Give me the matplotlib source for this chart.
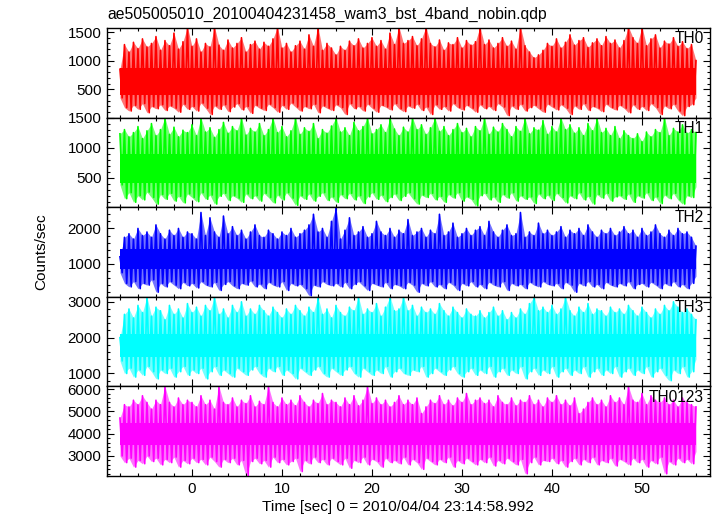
import numpy as np
import matplotlib
matplotlib.use("Agg")
import matplotlib.pyplot as plt
from matplotlib.ticker import MultipleLocator

plt.rcParams['font.family'] = ['Liberation Sans', 'DejaVu Sans']

title = "ae505005010_20100404231458_wam3_bst_4band_nobin.qdp"
xlabel = "Time [sec] 0 = 2010/04/04 23:14:58.992"
ylabel = "Counts/sec"
bands = ["TH0", "TH1", "TH2", "TH3", "TH0123"]
colors = ["#ff0000", "#00ff00", "#0000ff", "#00ffff", "#ff00ff"]

# time grid of the envelope samples (seconds, 0.5 s spacing, -8 .. 56)
t_start, t_step, n_pts = -8.0, 0.5, 129

# upper / lower extremes of the light curves (counts/sec)
th0_hi = [850, 1280, 1150, 1320, 1210, 1380, 1240, 1300, 1420, 1180, 1350, 1260, 1480, 1200, 1330, 1590,
          1250, 1380, 1150, 1300, 1240, 1590, 1270, 1180, 1360, 1220, 1300, 1400, 1150, 1280, 1340, 1200,
          1320, 1250, 1380, 1590, 1220, 1300, 1150, 1260, 1340, 1200, 1450, 1250, 1590, 1180, 1300, 1220,
          1100, 1250, 1180, 1340, 1260, 1380, 1220, 1300, 1400, 1250, 1350, 1200, 1480, 1280, 1590, 1300,
          1350, 1420, 1260, 1380, 1590, 1300, 1240, 1360, 1180, 1310, 1280, 1400, 1220, 1350, 1270, 1330,
          1590, 1280, 1360, 1220, 1300, 1400, 1250, 1340, 1200, 1590, 1260, 1150, 1050, 1100, 1180, 1300,
          1250, 1380, 1220, 1320, 1450, 1270, 1350, 1400, 1230, 1310, 1380, 1260, 1420, 1300, 1360, 1220,
          1350, 1590, 1400, 1300, 1590, 1260, 1380, 1450, 1220, 1340, 1290, 1400, 1250, 1330, 1210, 1280,
          1000]
th0_lo = [350, 180, 120, 220, 150, 250, 90, 200, 160, 230, 130, 210, 170, 100, 240, 150,
          200, 120, 260, 170, 60, 210, 150, 230, 110, 190, 250, 140, 200, 80, 220, 170,
          130, 240, 180, 100, 220, 150, 260, 190, 120, 200, 160, 240, 90, 210, 170, 130,
          230, 180, 60, 250, 160, 200, 120, 240, 170, 100, 220, 190, 140, 250, 160, 110,
          210, 170, 240, 130, 190, 60, 230, 150, 200, 120, 250, 180, 140, 220, 170, 100,
          230, 160, 200, 130, 250, 190, 40, 210, 150, 240, 120, 180, 220, 160, 100, 240,
          190, 140, 230, 170, 60, 210, 150, 250, 130, 200, 170, 110, 240, 180, 140, 220,
          170, 90, 230, 150, 200, 130, 250, 180, 60, 210, 160, 240, 120, 40, 200, 230,
          350]
th1_hi = [1230, 1300, 1180, 1250, 1350, 1150, 1280, 1400, 1200, 1300, 1500, 1220, 1340, 1180, 1290, 1250,
          1380, 1200, 1500, 1260, 1330, 1170, 1300, 1420, 1240, 1350, 1280, 1500, 1210, 1320, 1260, 1400,
          1200, 1300, 1500, 1250, 1350, 1180, 1280, 1500, 1220, 1330, 1270, 1400, 1150, 1300, 1240, 1360,
          1500, 1260, 1330, 1200, 1420, 1280, 1350, 1500, 1230, 1300, 1380, 1250, 1500, 1310, 1200, 1340,
          1260, 1500, 1300, 1380, 1220, 1330, 1500, 1270, 1350, 1200, 1300, 1400, 1250, 1320, 1180, 1350,
          1280, 1500, 1220, 1340, 1260, 1400, 1300, 1180, 1350, 1270, 1500, 1230, 1330, 1290, 1450, 1220,
          1350, 1260, 1500, 1300, 1380, 1240, 1330, 1200, 1400, 1280, 1500, 1250, 1320, 1200, 1350, 1150,
          1280, 1200, 1150, 1230, 1100, 1260, 1180, 1300, 1250, 1500, 1200, 1320, 1260, 1380, 1240, 1300,
          1250]
th1_lo = [380, 150, 250, 90, 200, 130, 260, 170, 60, 220, 140, 240, 110, 190, 80, 230,
          170, 100, 250, 140, 210, 60, 190, 240, 120, 200, 160, 90, 230, 150, 200, 110,
          240, 170, 80, 210, 130, 250, 160, 40, 200, 140, 230, 110, 190, 250, 120, 180,
          90, 220, 150, 240, 130, 200, 70, 180, 250, 140, 210, 100, 170, 230, 120, 190,
          250, 150, 60, 210, 170, 240, 130, 190, 90, 220, 160, 250, 110, 180, 140, 30,
          200, 240, 130, 180, 90, 220, 160, 250, 110, 200, 140, 180, 70, 230, 150, 210,
          120, 240, 170, 80, 200, 150, 250, 130, 190, 60, 220, 160, 240, 110, 180, 200,
          140, 230, 90, 200, 160, 250, 120, 180, 70, 210, 150, 240, 130, 60, 200, 170,
          350]
th2_hi = [1200, 1750, 1850, 1700, 2000, 1800, 1900, 1750, 2100, 1850, 1700, 1950, 1800, 2000, 1750, 1900,
          1850, 1700, 2450, 1800, 2300, 1900, 1750, 2350, 1850, 2050, 1800, 1950, 1700, 1900, 2100, 1800,
          1750, 1950, 1850, 1700, 1900, 1800, 2000, 1750, 1850, 1950, 2100, 2400, 1900, 2000, 1750, 2200,
          2600, 1700, 1950, 2300, 1800, 1900, 2050, 1750, 1850, 2200, 1900, 1800, 2000, 1750, 1950, 1850,
          2250, 1800, 1900, 2000, 1750, 1950, 1850, 2400, 1800, 1900, 2150, 1750, 1850, 2000, 1800, 1950,
          2050, 1800, 2200, 1900, 1750, 1950, 2100, 1800, 1850, 2450, 1750, 1900, 1800, 2150, 1850, 1950,
          1800, 1900, 2050, 1750, 1950, 1850, 2000, 1800, 2100, 1900, 1750, 1950, 1850, 2000, 1800, 1900,
          2050, 1850, 1950, 1750, 2000, 1800, 1900, 2100, 1850, 1750, 1950, 1800, 2000, 1850, 1900, 1750,
          1500]
th2_lo = [750, 450, 350, 500, 300, 450, 400, 550, 200, 450, 350, 500, 400, 300, 480, 380,
          450, 320, 500, 400, 350, 480, 250, 420, 500, 380, 300, 450, 400, 520, 350, 430,
          300, 480, 400, 350, 500, 250, 450, 380, 420, 300, 100, 400, 350, 500, 420, 380,
          450, 350, 480, 300, 420, 500, 380, 250, 450, 400, 350, 480, 300, 420, 380, 300,
          480, 400, 200, 450, 380, 500, 350, 420, 300, 480, 400, 250, 450, 380, 500, 350,
          420, 300, 480, 400, 350, 500, 250, 450, 380, 420, 300, 480, 400, 350, 500, 420,
          380, 450, 300, 480, 400, 200, 450, 380, 500, 350, 420, 300, 480, 400, 350, 450,
          380, 500, 300, 420, 450, 350, 480, 400, 300, 450, 380, 500, 350, 420, 300, 450,
          650]
th3_hi = [2000, 2650, 2800, 2550, 2900, 2700, 3140, 2600, 2850, 2750, 2500, 2900, 2650, 2800, 2550, 2950,
          2700, 2850, 2600, 2900, 2750, 3140, 2650, 2800, 2550, 2900, 2700, 3000, 2600, 2800, 2650, 2900,
          2750, 2600, 2850, 2700, 2550, 2800, 2650, 2900, 2750, 2600, 2850, 2700, 3140, 2650, 2800, 2550,
          2900, 2700, 2600, 2850, 2750, 3140, 2650, 2800, 2700, 2950, 2600, 2850, 3140, 2750, 2800, 3140,
          2750, 2900, 2600, 2850, 2700, 2800, 2650, 2950, 2750, 2600, 2850, 2700, 2550, 2800, 2650, 2600,
          2750, 2550, 2700, 2850, 2600, 2750, 2500, 2700, 2550, 2800, 2650, 2950, 3140, 2750, 2850, 2700,
          2900, 2650, 2800, 3140, 2750, 2600, 2850, 2700, 2950, 2650, 2800, 2750, 2600, 2850, 2700, 2800,
          2650, 2900, 2750, 2600, 2850, 2700, 2550, 2800, 2650, 2900, 2750, 3000, 2850, 2700, 2800, 2650,
          2500]
th3_lo = [1350, 1000, 1150, 900, 1100, 950, 1200, 1050, 850, 1100, 1000, 1150, 900, 1050, 1200, 950,
          1100, 1000, 1150, 850, 1050, 1200, 950, 1100, 1000, 900, 1150, 1050, 950, 1100, 1200, 1000,
          900, 1150, 1050, 1200, 950, 1100, 1000, 850, 1150, 1050, 950, 1100, 1200, 1000, 900, 1150,
          1050, 950, 1100, 1200, 1000, 900, 1150, 1050, 950, 1100, 1000, 1200, 900, 1050, 1150, 1000,
          950, 1100, 1050, 1200, 900, 1000, 1150, 1050, 950, 1100, 1200, 1000, 900, 1050, 1150, 950,
          1100, 1000, 1200, 900, 1050, 1150, 950, 1100, 1000, 1200, 850, 1050, 1150, 950, 1100, 1000,
          1200, 900, 1050, 1150, 950, 1100, 1000, 1200, 900, 1050, 1150, 950, 1100, 1000, 1200, 900,
          1050, 1150, 950, 1100, 1000, 1200, 900, 1050, 1150, 950, 800, 1100, 1000, 1200, 900, 1050,
          1400]
th0123_hi = [4700, 5300, 5200, 5500, 5300, 5700, 5400, 5100, 5500, 5300, 6120, 5400, 5200, 5600, 5300, 5500,
             5400, 5200, 5700, 5300, 5500, 5100, 6120, 5400, 5300, 5600, 5200, 5500, 5350, 5700, 5200, 5450,
             5300, 6120, 5400, 5200, 5600, 5300, 5500, 5250, 5700, 5400, 5200, 5500, 5350, 5800, 5300, 5500,
             5400, 5200, 5600, 5300, 5700, 5250, 5500, 6120, 5350, 5600, 5300, 5500, 5200, 5400, 5700, 5300,
             5500, 5300, 5600, 4900, 5200, 5500, 5350, 5700, 5300, 5500, 5250, 5600, 5400, 5800, 5300, 5500,
             5600, 5350, 5500, 5200, 5700, 5400, 5300, 5600, 5250, 5500, 5400, 5700, 5300, 5500, 5200, 5600,
             5400, 5700, 5300, 5500, 5250, 5600, 4900, 5100, 5400, 5600, 5300, 5500, 5200, 5700, 5400, 5600,
             5300, 6120, 5500, 5400, 5800, 5300, 5700, 5500, 5400, 5600, 5300, 5500, 5200, 5600, 5400, 5300,
             5200]
th0123_lo = [3000, 2700, 2900, 2500, 2800, 2650, 3000, 2750, 2900, 2600, 2850, 2700, 2950, 2500, 2800, 2650,
             2900, 2700, 2850, 2600, 2950, 2750, 2500, 2850, 2700, 2900, 2600, 2800, 2100, 2750, 2900, 2650,
             2800, 2500, 2950, 2700, 2850, 2600, 2750, 2900, 2300, 2800, 2650, 2950, 2700, 2850, 2600, 2900,
             2750, 2600, 2900, 2450, 2800, 2700, 2950, 2600, 2850, 2750, 2500, 2900, 2700, 2800, 2650, 2950,
             2600, 2850, 2700, 2400, 2900, 2750, 2600, 2850, 2700, 2950, 2500, 2800, 2650, 2900, 2750, 2600,
             2850, 2700, 2950, 2550, 2800, 2650, 2900, 2750, 2600, 2850, 2200, 2700, 2950, 2600, 2800, 2750,
             2900, 2650, 2800, 2500, 2750, 2900, 2600, 2850, 2700, 2950, 2600, 2800, 2700, 2900, 2550, 2850,
             2750, 2600, 2900, 2700, 2850, 2500, 2800, 2650, 2950, 2200, 2750, 2600, 2900, 2700, 2850, 2650,
             3200]

# densely filled core band of each light curve (counts/sec)
th0_core = [400, 880]
th1_core = [410, 900]
th2_core = [850, 1430]
th3_core = [1450, 2100]
th0123_core = [3500, 4500]

highs = [th0_hi, th1_hi, th2_hi, th3_hi, th0123_hi]
lows = [th0_lo, th1_lo, th2_lo, th3_lo, th0123_lo]
cores = [th0_core, th1_core, th2_core, th3_core, th0123_core]

ylims = [(5, 1570), (8, 1500), (70, 2600), (640, 3140), (2100, 6120)]
ymajor = [500, 500, 1000, 1000, 1000]
yminor = [100, 100, 200, 200, 200]
xlim = (-9.44, 57.56)

W, H = 717, 516
fig = plt.figure(figsize=(W / 100, H / 100), dpi=100)
left, right, top, bottom = 107, 710, 28, 476
ph = (bottom - top) / 5

t = t_start + t_step * np.arange(n_pts)
fs = 10.9
for i in range(5):
    y0 = 1 - (top + ph * (i + 1)) / H
    ax = fig.add_axes([left / W, y0, (right - left) / W, ph / H])
    hi = np.array(highs[i], dtype=float)
    lo = np.array(lows[i], dtype=float)
    # faint envelope (antialiased fringe of the dense spikes)
    ax.fill_between(t, lo, hi, color=colors[i], alpha=0.55, lw=0)
    # dense core
    ax.fill_between([t[0], t[-1]], [cores[i][0]] * 2, [cores[i][1]] * 2,
                    color=colors[i], lw=0)
    # spikes: each maximum followed by its minimum
    tz = np.empty(2 * n_pts)
    vz = np.empty(2 * n_pts)
    tz[0::2] = t
    tz[1::2] = t + t_step / 2
    vz[0::2] = hi
    vz[1::2] = lo
    keep = tz <= t[-1]
    ax.plot(tz[keep], vz[keep], color=colors[i], lw=1.2)
    ax.set_xlim(*xlim)
    ax.set_ylim(*ylims[i])
    ax.xaxis.set_major_locator(MultipleLocator(10))
    ax.xaxis.set_minor_locator(MultipleLocator(2))
    ax.yaxis.set_major_locator(MultipleLocator(ymajor[i]))
    ax.yaxis.set_minor_locator(MultipleLocator(yminor[i]))
    ax.tick_params(which='both', direction='in', top=True, right=True,
                   labelsize=fs, colors='black', width=0.8, pad=4)
    ax.tick_params(which='major', length=5)
    ax.tick_params(which='minor', length=2.5)
    for s in ax.spines.values():
        s.set_linewidth(1.0)
        s.set_color('black')
    if i < 4:
        ax.tick_params(labelbottom=False)
    ax.text(0.99, 0.965, bands[i], transform=ax.transAxes, ha='right', va='top',
            fontsize=fs + 0.3, color='black', zorder=5)

fig.text(left / W, 1 - 14 / H, title, ha='left', va='center', fontsize=fs + 0.4)
fig.text(397.5 / W, 1 - 507 / H, xlabel, ha='center', va='center', fontsize=fs + 0.2)
fig.text(41 / W, 1 - 252 / H, ylabel, ha='center', va='center', rotation=90, fontsize=fs + 0.2)

fig.savefig("out.png", dpi=100)
